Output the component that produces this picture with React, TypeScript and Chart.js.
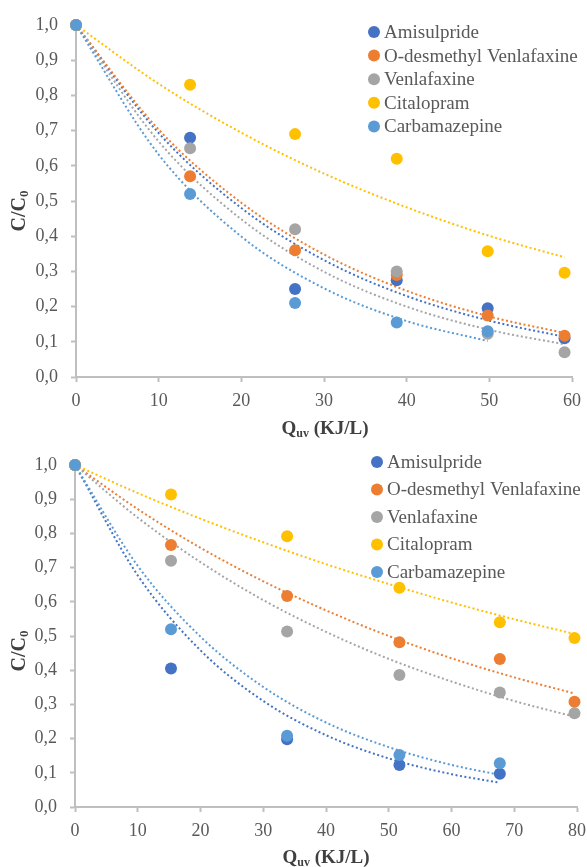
import React, { useEffect, useRef } from 'react';
import { Chart, registerables } from 'chart.js';
Chart.register(...registerables);

const NAMES = ['Amisulpride', 'O-desmethyl Venlafaxine', 'Venlafaxine', 'Citalopram', 'Carbamazepine'];
const COLORS = ['#4472C4', '#ED7D31', '#A5A5A5', '#FFC000', '#5B9BD5'];
const Y_TICKS = [0, 0.1, 0.2, 0.3, 0.4, 0.5, 0.6, 0.7, 0.8, 0.9, 1.0];

// ---- Top panel ----
const xTop = [0, 13.8, 26.5, 38.8, 49.8, 59.1];
const topAmisulpride = [1, 0.68, 0.25, 0.275, 0.195, 0.11];
const topODesmethyl = [1, 0.57, 0.36, 0.29, 0.175, 0.117];
const topVenlafaxine = [1, 0.65, 0.42, 0.30, 0.123, 0.07];
const topCitalopram = [1, 0.83, 0.69, 0.62, 0.357, 0.296];
const topCarbamazepine = [1, 0.52, 0.21, 0.155, 0.13];

const trendXTop = [0, 10, 20, 30, 40, 50, 59.1];
const trendXTopCarba = [0, 10, 20, 30, 40, 49.8];
const topTrendAmisulpride = [1, 0.693, 0.48, 0.332, 0.23, 0.16, 0.114];
const topTrendODesmethyl = [1, 0.703, 0.495, 0.348, 0.245, 0.172, 0.125];
const topTrendVenlafaxine = [1, 0.669, 0.448, 0.299, 0.2, 0.134, 0.093];
const topTrendCitalopram = [1, 0.833, 0.694, 0.578, 0.482, 0.401, 0.34];
const topTrendCarbamazepine = [1, 0.632, 0.399, 0.252, 0.159, 0.102];

// ---- Bottom panel ----
const xBottom = [0, 15.3, 33.8, 51.7, 67.7, 79.6];
const botAmisulpride = [1, 0.405, 0.198, 0.123, 0.097];
const botODesmethyl = [1, 0.766, 0.617, 0.482, 0.433, 0.308];
const botVenlafaxine = [1, 0.72, 0.513, 0.386, 0.335, 0.274];
const botCitalopram = [1, 0.914, 0.792, 0.641, 0.54, 0.494];
const botCarbamazepine = [1, 0.52, 0.208, 0.152, 0.128];

const trendXBot = [0, 10, 20, 30, 40, 50, 60, 70, 79.6];
const trendXBotBlue = [0, 10, 20, 30, 40, 50, 60, 67.7];
const botTrendAmisulpride = [1, 0.677, 0.458, 0.31, 0.21, 0.142, 0.096, 0.071];
const botTrendODesmethyl = [1, 0.871, 0.758, 0.66, 0.575, 0.5, 0.435, 0.379, 0.332];
const botTrendVenlafaxine = [1, 0.846, 0.716, 0.605, 0.512, 0.433, 0.367, 0.31, 0.264];
const botTrendCitalopram = [1, 0.918, 0.843, 0.774, 0.71, 0.652, 0.598, 0.549, 0.506];
const botTrendCarbamazepine = [1, 0.705, 0.498, 0.351, 0.247, 0.175, 0.123, 0.094];

const SERIF = "'Liberation Serif', 'Times New Roman', serif";
const TEXT = '#595959';

type Panel = {
  x: number[];
  values: number[][];
  trendX: number[][];
  trend: number[][];
  xMax: number;
  pad: { top: number; right: number };
  yWidth: number;
  xHeight: number;
  legend: { dotX: number; textX: number; y0: number; dy: number };
  xTitle: { x: number; y: number };
  yTitle: { x: number; y: number };
};

const topPanel: Panel = {
  x: xTop,
  values: [topAmisulpride, topODesmethyl, topVenlafaxine, topCitalopram, topCarbamazepine],
  trendX: [trendXTop, trendXTop, trendXTop, trendXTop, trendXTopCarba],
  trend: [topTrendAmisulpride, topTrendODesmethyl, topTrendVenlafaxine, topTrendCitalopram, topTrendCarbamazepine],
  xMax: 60,
  pad: { top: 25, right: 15 },
  yWidth: 76,
  xHeight: 68,
  legend: { dotX: 374, textX: 384, y0: 32, dy: 23.6 },
  xTitle: { x: 325, y: 428 },
  yTitle: { x: 18, y: 211 },
};

const bottomPanel: Panel = {
  x: xBottom,
  values: [botAmisulpride, botODesmethyl, botVenlafaxine, botCitalopram, botCarbamazepine],
  trendX: [trendXBotBlue, trendXBot, trendXBot, trendXBot, trendXBotBlue],
  trend: [botTrendAmisulpride, botTrendODesmethyl, botTrendVenlafaxine, botTrendCitalopram, botTrendCarbamazepine],
  xMax: 80,
  pad: { top: 25, right: 10 },
  yWidth: 75,
  xHeight: 60,
  legend: { dotX: 377, textX: 387, y0: 22, dy: 27.5 },
  xTitle: { x: 326, y: 417 },
  yTitle: { x: 18, y: 211 },
};

function drawParts(ctx: CanvasRenderingContext2D, parts: { t: string; sub?: boolean }[], big: number, small: number) {
  let total = 0;
  for (const p of parts) {
    ctx.font = `bold ${p.sub ? small : big}px ${SERIF}`;
    total += ctx.measureText(p.t).width;
  }
  let x = -total / 2;
  for (const p of parts) {
    ctx.font = `bold ${p.sub ? small : big}px ${SERIF}`;
    ctx.fillText(p.t, x, p.sub ? big * 0.33 + 3 : big * 0.33);
    x += ctx.measureText(p.t).width;
  }
}

function makeDecor(panel: Panel) {
  return {
    id: 'decor',
    afterDraw(chart: any) {
      const ctx: CanvasRenderingContext2D = chart.ctx;
      ctx.save();
      ctx.fillStyle = TEXT;
      ctx.textAlign = 'left';
      // legend
      NAMES.forEach((n, i) => {
        const y = panel.legend.y0 + i * panel.legend.dy;
        ctx.beginPath();
        ctx.fillStyle = COLORS[i];
        ctx.arc(panel.legend.dotX, y, 6, 0, Math.PI * 2);
        ctx.fill();
        ctx.fillStyle = TEXT;
        ctx.font = `19px ${SERIF}`;
        ctx.textBaseline = 'middle';
        ctx.fillText(n, panel.legend.textX, y + 1);
      });
      ctx.textBaseline = 'alphabetic';
      ctx.fillStyle = '#404040';
      // x title
      ctx.save();
      ctx.translate(panel.xTitle.x, panel.xTitle.y);
      drawParts(ctx, [{ t: 'Q' }, { t: 'uv', sub: true }, { t: ' (KJ/L)' }], 19, 12);
      ctx.restore();
      // y title
      ctx.save();
      ctx.translate(panel.yTitle.x, panel.yTitle.y);
      ctx.rotate(-Math.PI / 2);
      drawParts(ctx, [{ t: 'C/C' }, { t: '0', sub: true }], 20, 13);
      ctx.restore();
      ctx.restore();
    },
  };
}

function buildConfig(panel: Panel): any {
  const datasets: any[] = [];
  panel.values.forEach((vals, i) => {
    datasets.push({
      label: NAMES[i],
      data: vals.map((v, j) => ({ x: panel.x[j], y: v })),
      backgroundColor: COLORS[i],
      borderColor: COLORS[i],
      borderWidth: 0,
      pointRadius: 6,
      pointHoverRadius: 6,
      showLine: false,
      clip: false,
      order: 10 - i,
    });
  });
  panel.trend.forEach((vals, i) => {
    datasets.push({
      label: NAMES[i] + ' trend',
      data: vals.map((v, j) => ({ x: panel.trendX[i][j], y: v })),
      borderColor: COLORS[i],
      backgroundColor: COLORS[i],
      borderWidth: 2,
      borderDash: [2, 2.5],
      pointRadius: 0,
      showLine: true,
      fill: false,
      cubicInterpolationMode: 'monotone',
      order: 20 - i,
    });
  });
  return {
    type: 'scatter',
    data: { datasets },
    plugins: [makeDecor(panel)],
    options: {
      animation: false,
      responsive: false,
      maintainAspectRatio: false,
      layout: { padding: { left: 0, top: panel.pad.top, right: panel.pad.right, bottom: 0 } },
      plugins: { legend: { display: false }, tooltip: { enabled: false }, title: { display: false } },
      scales: {
        x: {
          type: 'linear',
          min: 0,
          max: panel.xMax,
          afterFit: (s: any) => {
            s.height = panel.xHeight;
            s.paddingRight = 0;
            s.paddingLeft = 0;
          },
          ticks: { stepSize: 10, color: TEXT, font: { family: SERIF, size: 18 }, padding: 8 },
          grid: { drawOnChartArea: false, drawTicks: true, tickLength: 5, tickWidth: 2, color: '#BFBFBF' },
          border: { color: '#BFBFBF', width: 2 },
        },
        y: {
          type: 'linear',
          min: 0,
          max: 1,
          afterFit: (s: any) => {
            s.width = panel.yWidth;
            s.paddingTop = 0;
            s.paddingBottom = 0;
          },
          afterBuildTicks: (s: any) => { s.ticks = Y_TICKS.map((v) => ({ value: v })); },
          ticks: {
            color: TEXT,
            font: { family: SERIF, size: 18 },
            padding: 13,
            callback: (v: number) => v.toFixed(1).replace('.', ','),
          },
          grid: { drawOnChartArea: false, drawTicks: true, tickLength: 5, tickWidth: 2, color: '#BFBFBF' },
          border: { color: '#BFBFBF', width: 2 },
        },
      },
    },
  };
}

function ChartCanvas({ panel, top, height }: { panel: Panel; top: number; height: number }) {
  const ref = useRef<HTMLCanvasElement>(null);
  useEffect(() => {
    if (!ref.current) return;
    const chart = new Chart(ref.current, buildConfig(panel));
    return () => chart.destroy();
  }, [panel]);
  return (
    <canvas
      ref={ref}
      width={587}
      height={height}
      style={{ position: 'absolute', left: 0, top, width: 587, height }}
    />
  );
}

export default function App() {
  return (
    <div style={{ position: 'fixed', left: 0, top: 0, width: 587, height: 867, background: '#ffffff' }}>
      <ChartCanvas panel={topPanel} top={0} height={445} />
      <ChartCanvas panel={bottomPanel} top={440} height={427} />
    </div>
  );
}
